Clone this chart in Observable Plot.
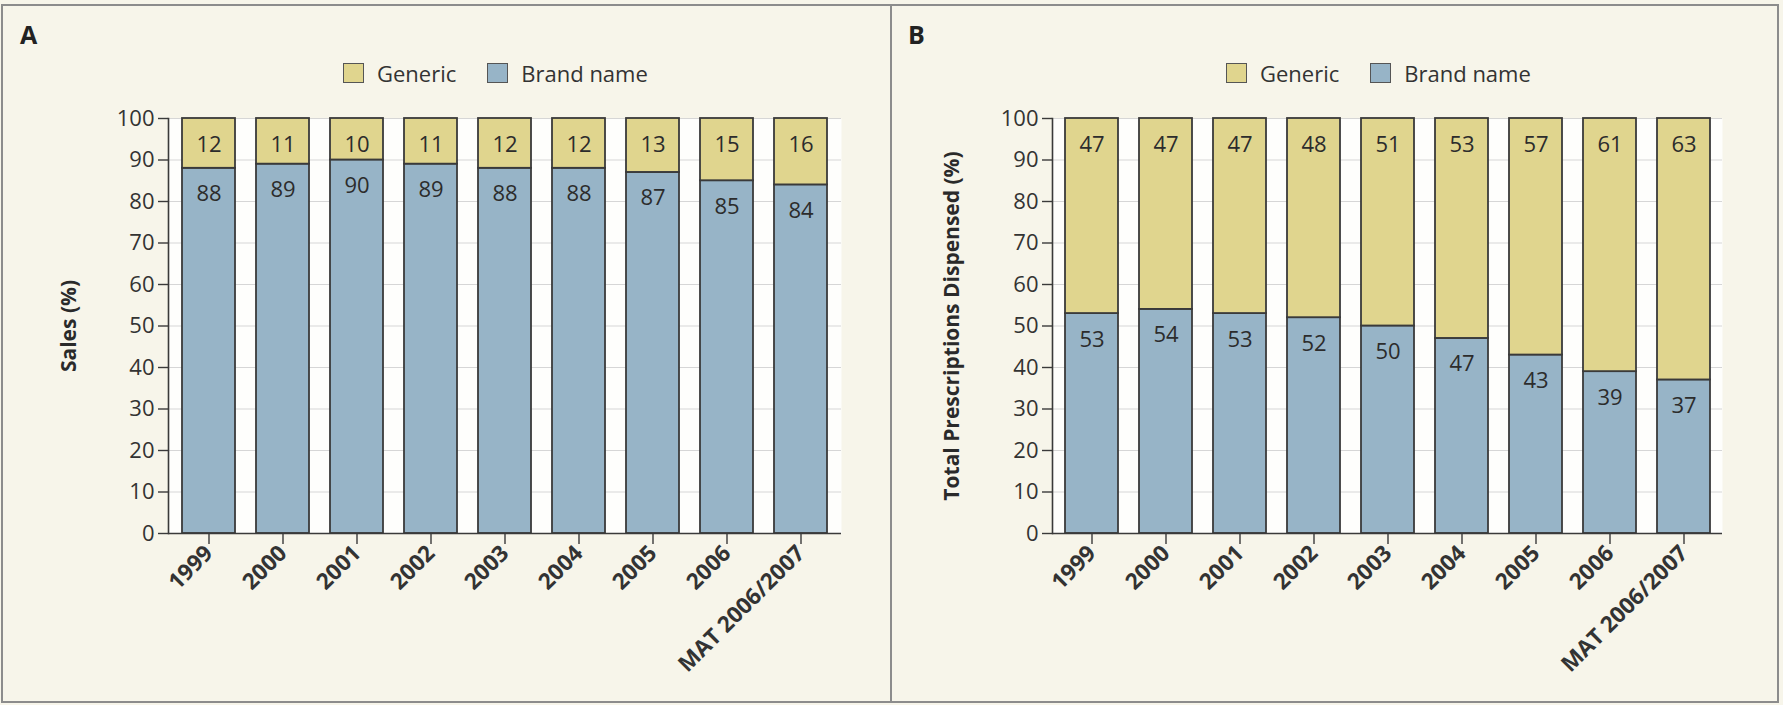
<!DOCTYPE html>
<html>
<head>
<meta charset="utf-8">
<script src="https://cdn.jsdelivr.net/npm/d3@7"></script>
<script src="https://cdn.jsdelivr.net/npm/@observablehq/plot@0.6"></script>
<style>
  html, body { margin: 0; padding: 0; background: #f7f5ea; }
  #wrap { position: relative; width: 1783px; height: 705px; background: #f7f5ea; font-family: "Open Sans", sans-serif; color: #333; overflow: hidden; }
  .box { position: absolute; left: 1px; top: 4px; width: 1778px; height: 699px; border: 2px solid #8c8c8c; box-sizing: border-box; }
  .divider { position: absolute; left: 890px; top: 4px; width: 2px; height: 699px; background: #8c8c8c; }
  .letter { position: absolute; top: 17px; font-size: 25px; font-weight: bold; color: #222; }
  .legend { position: absolute; top: 58px; display: flex; align-items: center; font-size: 22px; color: #333; }
  .legend .sw { width: 19px; height: 18px; border: 1.5px solid #555; margin-right: 13px; }
  .legend .item { display: flex; align-items: center; margin-right: 31px; }
  .plot { position: absolute; top: 90px; }
</style>
</head>
<body>
<div id="wrap">
  <div class="box"></div>
  <div class="divider"></div>
</div>
<script>
const years = ["1999", "2000", "2001", "2002", "2003", "2004", "2005", "2006", "MAT 2006/2007"];
const salesGeneric = [12, 11, 10, 11, 12, 12, 13, 15, 16];
const salesBrand = [88, 89, 90, 89, 88, 88, 87, 85, 84];
const rxGeneric = [47, 47, 47, 48, 51, 53, 57, 61, 63];
const rxBrand = [53, 54, 53, 52, 50, 47, 43, 39, 37];
const yTicks = [0, 10, 20, 30, 40, 50, 60, 70, 80, 90, 100];
const seriesNames = ["Generic", "Brand name"];
const panelLetters = ["A", "B"];
const yLabels = ["Sales (%)", "Total Prescriptions Dispensed (%)"];

const genericColor = "#e0d58e";
const brandColor = "#97b4c7";
const ink = "#3a3a3a";

function makePanel(generic, brand, ylabel, cfg) {
  const rows = years.map((year, i) => ({year, generic: generic[i], brand: brand[i]}));
  return Plot.plot({
    width: cfg.width,
    height: 605,
    marginLeft: cfg.marginLeft,
    marginRight: cfg.marginRight,
    marginTop: 28,
    marginBottom: 162,
    style: {background: "transparent", fontFamily: "Open Sans, sans-serif", color: "#333", overflow: "visible"},
    x: {domain: years, paddingInner: 0.29, paddingOuter: 0.15, align: 0.5},
    y: {domain: [0, 100]},
    marks: [
      Plot.frame({fill: "#fefefc", stroke: null}),
      Plot.gridY(yTicks, {stroke: "#d6d6d6", strokeOpacity: 1, strokeWidth: 1.2}),
      Plot.barY(rows, {x: "year", y1: 0, y2: "brand", fill: brandColor, stroke: ink, strokeWidth: 1.8}),
      Plot.barY(rows, {x: "year", y1: "brand", y2: 100, fill: genericColor, stroke: ink, strokeWidth: 1.8}),
      Plot.text(rows, {x: "year", y: "brand", text: d => String(d.brand), dy: 26, fontSize: 22, fill: "#2c2c2c"}),
      Plot.text(rows, {x: "year", y: 100, text: d => String(d.generic), dy: 26, fontSize: 22, fill: "#2c2c2c"}),
      Plot.ruleY([0], {stroke: ink, strokeWidth: 1.6}),
      Plot.frame({anchor: "left", stroke: ink, strokeWidth: 1.6}),
      Plot.axisY(yTicks, {tickSize: 10, tickPadding: 4, fontSize: 22, label: null, stroke: ink, strokeWidth: 1.4}),
      Plot.axisX({tickSize: 11, tickPadding: 5, tickRotate: -45, fontSize: 22.5, fontWeight: "bold", label: null, stroke: ink, strokeWidth: 1.4}),
      Plot.text([ylabel], {text: d => d, frameAnchor: "left", textAnchor: "middle", lineAnchor: "middle", rotate: -90, dx: cfg.labelDx, fontSize: 21, fontWeight: "bold", fill: "#2a2a2a"})
    ]
  });
}

const wrap = document.getElementById("wrap");
const panels = [
  {generic: salesGeneric, brand: salesBrand, left: 3, width: 886, marginLeft: 165, marginRight: 48, labelDx: -99, letterX: 20, legendX: 343},
  {generic: rxGeneric, brand: rxBrand, left: 893, width: 884, marginLeft: 159, marginRight: 55, labelDx: -100, letterX: 908, legendX: 1226}
];

panels.forEach((p, k) => {
  const letter = document.createElement("div");
  letter.className = "letter";
  letter.style.left = p.letterX + "px";
  letter.textContent = panelLetters[k];
  wrap.appendChild(letter);

  const legend = document.createElement("div");
  legend.className = "legend";
  legend.style.left = p.legendX + "px";
  [genericColor, brandColor].forEach((c, j) => {
    const item = document.createElement("div");
    item.className = "item";
    const sw = document.createElement("div");
    sw.className = "sw";
    sw.style.background = c;
    const t = document.createElement("span");
    t.textContent = seriesNames[j];
    item.appendChild(sw);
    item.appendChild(t);
    legend.appendChild(item);
  });
  wrap.appendChild(legend);

  const chart = makePanel(p.generic, p.brand, yLabels[k], p);
  chart.classList.add("plot");
  chart.style.left = p.left + "px";
  wrap.appendChild(chart);
});
</script>
</body>
</html>
